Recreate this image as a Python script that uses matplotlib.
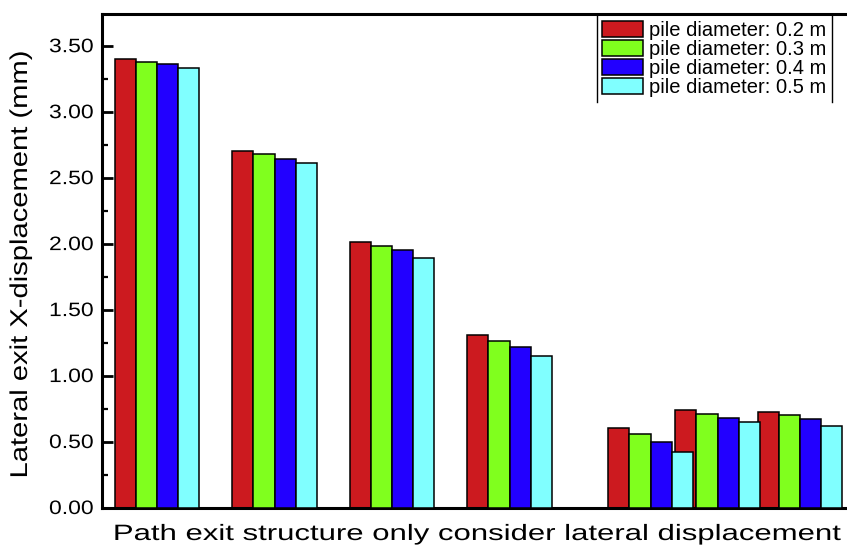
import matplotlib
matplotlib.use('Agg')
import matplotlib.pyplot as plt
import matplotlib.patheffects as pe
from matplotlib.lines import Line2D
from matplotlib.transforms import Affine2D
from matplotlib.ticker import MultipleLocator, FormatStrFormatter

# Group positions along the (unlabelled) x axis
group_pos = [1, 2, 3, 4, 5.2, 5.77, 6.47]

# Lateral exit X-displacement (mm) for each pile diameter
disp_02 = [3.40, 2.70, 2.01, 1.31, 0.60, 0.74, 0.72]
disp_03 = [3.38, 2.68, 1.98, 1.26, 0.56, 0.71, 0.70]
disp_04 = [3.36, 2.64, 1.95, 1.22, 0.50, 0.68, 0.67]
disp_05 = [3.33, 2.61, 1.89, 1.15, 0.42, 0.645, 0.62]

labels = ['pile diameter: 0.2 m', 'pile diameter: 0.3 m',
          'pile diameter: 0.4 m', 'pile diameter: 0.5 m']
colors = ['#CC1A1F', '#80FF1E', '#2200FF', '#80FFFF']

BAR_W = 0.179


class Stretch(pe.AbstractPathEffect):
    """Stretch a text path about a point of its bbox (fx, fy in 0..1)."""

    def __init__(self, sx=1.0, sy=1.0, fx=0.5, fy=0.5):
        super().__init__()
        self.sx = sx
        self.sy = sy
        self.fx = fx
        self.fy = fy

    def draw_path(self, renderer, gc, tpath, affine, rgbFace=None):
        bb = tpath.get_extents(affine)
        cx = bb.x0 + bb.width * self.fx
        cy = bb.y0 + bb.height * self.fy
        st = Affine2D().translate(-cx, -cy).scale(self.sx, self.sy).translate(cx, cy)
        renderer.draw_path(gc, tpath, affine + st, rgbFace)


plt.rcParams['font.family'] = ['Liberation Sans', 'DejaVu Sans']

fig = plt.figure(figsize=(8.47, 5.47), dpi=100)
ax = fig.add_axes([102 / 847, 1 - 507.5 / 547, 747 / 847, 493.5 / 547])

series = [disp_02, disp_03, disp_04, disp_05]
for i, (vals, lab, col) in enumerate(zip(series, labels, colors)):
    xs = [p + (i - 1.5) * BAR_W for p in group_pos]
    ax.bar(xs, vals, width=BAR_W, color=col, edgecolor='black',
           linewidth=1.1, label=lab, zorder=2 + i)

ax.set_xlim(0.532, 6.889)
ax.set_ylim(0, 3.74)
ax.set_xticks([])
ax.yaxis.set_major_locator(MultipleLocator(0.5))
ax.yaxis.set_minor_locator(MultipleLocator(0.25))
ax.yaxis.set_major_formatter(FormatStrFormatter('%.2f'))
ax.tick_params(axis='y', which='major', direction='in', length=8, width=2,
               labelsize=14, pad=6)
ax.tick_params(axis='y', which='minor', direction='in', length=4, width=1.6)
plt.setp(ax.get_yticklabels(), path_effects=[Stretch(sx=1.18, fx=1.0)])

for side in ['left', 'bottom', 'top']:
    ax.spines[side].set_linewidth(2.2)
ax.spines['right'].set_visible(False)

ax.set_ylabel('Lateral exit X-displacement (mm)', fontsize=17.5, va='center',
              path_effects=[Stretch(sy=1.2)])
ax.yaxis.set_label_coords((21 - 102) / 747, 0.491)
ax.set_xlabel('Path exit structure only consider lateral displacement',
              fontsize=16, va='baseline', path_effects=[Stretch(sx=1.4)])
ax.xaxis.set_label_coords((478 - 102) / 747, (507.5 - 540) / 493.5)

leg = ax.legend(loc='upper left', bbox_to_anchor=((597 - 102) / 747, 0.996),
                borderaxespad=0, borderpad=0.25, fontsize=14.5, labelspacing=0.0,
                handlelength=2.05, handleheight=0.85, handletextpad=0.3,
                frameon=False)

# legend box has only left and right rules
fig.canvas.draw()
bb = leg.get_window_extent().transformed(fig.transFigure.inverted())
for xv in (bb.x0, bb.x1):
    fig.add_artist(Line2D([xv, xv], [bb.y0, bb.y1], color='black',
                          linewidth=1.0, transform=fig.transFigure))

fig.savefig('out.png', dpi=100)
